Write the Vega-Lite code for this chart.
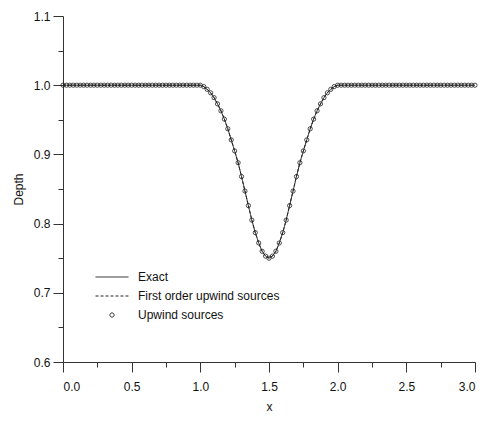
{
  "$schema": "https://vega.github.io/schema/vega-lite/v6.json",
  "width": 412,
  "height": 346,
  "autosize": {"type": "none"},
  "padding": {"left": 63, "top": 16, "right": 15, "bottom": 61},
  "background": "white",
  "config": {
    "view": {"stroke": null},
    "font": "Liberation Sans",
    "axis": {
      "grid": false,
      "domainColor": "#333333",
      "tickColor": "#333333",
      "domainWidth": 1,
      "tickWidth": 1,
      "tickSize": 10,
      "labelColor": "#111111",
      "titleColor": "#111111",
      "labelFont": "Liberation Sans",
      "titleFont": "Liberation Sans",
      "labelFontSize": 12,
      "titleFontSize": 12,
      "titleFontWeight": "normal"
    },
    "legend": {
      "labelFont": "Liberation Sans",
      "labelFontSize": 12,
      "labelColor": "#111111"
    }
  },
  "data": {
    "values": [
      {"x": 0, "depth": 1}, {"x": 0.025, "depth": 1}, {"x": 0.05, "depth": 1}, {"x": 0.075, "depth": 1},
      {"x": 0.1, "depth": 1}, {"x": 0.125, "depth": 1}, {"x": 0.15, "depth": 1}, {"x": 0.175, "depth": 1},
      {"x": 0.2, "depth": 1}, {"x": 0.225, "depth": 1}, {"x": 0.25, "depth": 1}, {"x": 0.275, "depth": 1},
      {"x": 0.3, "depth": 1}, {"x": 0.325, "depth": 1}, {"x": 0.35, "depth": 1}, {"x": 0.375, "depth": 1},
      {"x": 0.4, "depth": 1}, {"x": 0.425, "depth": 1}, {"x": 0.45, "depth": 1}, {"x": 0.475, "depth": 1},
      {"x": 0.5, "depth": 1}, {"x": 0.525, "depth": 1}, {"x": 0.55, "depth": 1}, {"x": 0.575, "depth": 1},
      {"x": 0.6, "depth": 1}, {"x": 0.625, "depth": 1}, {"x": 0.65, "depth": 1}, {"x": 0.675, "depth": 1},
      {"x": 0.7, "depth": 1}, {"x": 0.725, "depth": 1}, {"x": 0.75, "depth": 1}, {"x": 0.775, "depth": 1},
      {"x": 0.8, "depth": 1}, {"x": 0.825, "depth": 1}, {"x": 0.85, "depth": 1}, {"x": 0.875, "depth": 1},
      {"x": 0.9, "depth": 1}, {"x": 0.925, "depth": 1}, {"x": 0.95, "depth": 1}, {"x": 0.975, "depth": 1},
      {"x": 1.0, "depth": 1.0}, {"x": 1.025, "depth": 0.998}, {"x": 1.05, "depth": 0.994}, {"x": 1.075, "depth": 0.989},
      {"x": 1.1, "depth": 0.982}, {"x": 1.125, "depth": 0.973}, {"x": 1.15, "depth": 0.963}, {"x": 1.175, "depth": 0.951},
      {"x": 1.2, "depth": 0.937}, {"x": 1.225, "depth": 0.921}, {"x": 1.25, "depth": 0.905}, {"x": 1.275, "depth": 0.888},
      {"x": 1.3, "depth": 0.868}, {"x": 1.325, "depth": 0.847}, {"x": 1.35, "depth": 0.826}, {"x": 1.375, "depth": 0.805},
      {"x": 1.4, "depth": 0.787}, {"x": 1.425, "depth": 0.772}, {"x": 1.45, "depth": 0.76}, {"x": 1.475, "depth": 0.753},
      {"x": 1.5, "depth": 0.75},
      {"x": 1.525, "depth": 0.753}, {"x": 1.55, "depth": 0.76}, {"x": 1.575, "depth": 0.772}, {"x": 1.6, "depth": 0.787},
      {"x": 1.625, "depth": 0.805}, {"x": 1.65, "depth": 0.826}, {"x": 1.675, "depth": 0.847}, {"x": 1.7, "depth": 0.868},
      {"x": 1.725, "depth": 0.888}, {"x": 1.75, "depth": 0.905}, {"x": 1.775, "depth": 0.921}, {"x": 1.8, "depth": 0.937},
      {"x": 1.825, "depth": 0.951}, {"x": 1.85, "depth": 0.963}, {"x": 1.875, "depth": 0.973}, {"x": 1.9, "depth": 0.982},
      {"x": 1.925, "depth": 0.989}, {"x": 1.95, "depth": 0.994}, {"x": 1.975, "depth": 0.998}, {"x": 2.0, "depth": 1.0},
      {"x": 2.025, "depth": 1}, {"x": 2.05, "depth": 1}, {"x": 2.075, "depth": 1}, {"x": 2.1, "depth": 1},
      {"x": 2.125, "depth": 1}, {"x": 2.15, "depth": 1}, {"x": 2.175, "depth": 1}, {"x": 2.2, "depth": 1},
      {"x": 2.225, "depth": 1}, {"x": 2.25, "depth": 1}, {"x": 2.275, "depth": 1}, {"x": 2.3, "depth": 1},
      {"x": 2.325, "depth": 1}, {"x": 2.35, "depth": 1}, {"x": 2.375, "depth": 1}, {"x": 2.4, "depth": 1},
      {"x": 2.425, "depth": 1}, {"x": 2.45, "depth": 1}, {"x": 2.475, "depth": 1}, {"x": 2.5, "depth": 1},
      {"x": 2.525, "depth": 1}, {"x": 2.55, "depth": 1}, {"x": 2.575, "depth": 1}, {"x": 2.6, "depth": 1},
      {"x": 2.625, "depth": 1}, {"x": 2.65, "depth": 1}, {"x": 2.675, "depth": 1}, {"x": 2.7, "depth": 1},
      {"x": 2.725, "depth": 1}, {"x": 2.75, "depth": 1}, {"x": 2.775, "depth": 1}, {"x": 2.8, "depth": 1},
      {"x": 2.825, "depth": 1}, {"x": 2.85, "depth": 1}, {"x": 2.875, "depth": 1}, {"x": 2.9, "depth": 1},
      {"x": 2.925, "depth": 1}, {"x": 2.95, "depth": 1}, {"x": 2.975, "depth": 1}, {"x": 3.0, "depth": 1}
    ]
  },
  "layer": [
    {
      "mark": {"type": "line", "color": "#222222", "strokeWidth": 1},
      "encoding": {
        "x": {
          "field": "x", "type": "quantitative",
          "scale": {"domain": [0, 3], "nice": false, "zero": false},
          "axis": {"values": [0, 0.5, 1, 1.5, 2, 2.5, 3], "format": ".1f", "title": "x", "labelPadding": 9, "titlePadding": 9}
        },
        "y": {
          "field": "depth", "type": "quantitative",
          "scale": {"domain": [0.6, 1.1], "nice": false, "zero": false},
          "axis": {"values": [0.6, 0.7, 0.8, 0.9, 1.0, 1.1], "format": ".1f", "title": "Depth", "labelPadding": 3, "titlePadding": 8}
        },
        "strokeDash": {
          "datum": "Exact", "type": "nominal",
          "scale": {
            "domain": ["Exact", "First order upwind sources", "Upwind sources"],
            "range": [[1, 0], [3, 2], [1, 0]]
          },
          "legend": {
            "title": null,
            "orient": "none",
            "legendX": 32,
            "legendY": 254,
            "symbolType": "stroke",
            "symbolSize": 1089,
            "symbolStrokeWidth": 1,
            "symbolStrokeColor": "#333333",
            "labelOffset": 9,
            "rowPadding": 6,
            "encode": {
              "symbols": {
                "update": {
                  "shape": {"signal": "datum.label === 'Upwind sources' ? 'circle' : 'stroke'"},
                  "size": {"signal": "datum.label === 'Upwind sources' ? 18 : 1089"},
                  "y": {"value": 7},
                  "fill": {"value": "transparent"},
                  "stroke": {"value": "#222222"},
                  "strokeWidth": {"value": 1}
                }
              },
              "labels": {
                "update": {
                  "y": {"value": 7}
                }
              }
            }
          }
        }
      }
    },
    {
      "mark": {"type": "line", "color": "#222222", "strokeWidth": 1},
      "encoding": {
        "x": {"field": "x", "type": "quantitative", "axis": null},
        "y": {"field": "depth", "type": "quantitative", "axis": null},
        "strokeDash": {"datum": "First order upwind sources", "type": "nominal"}
      }
    },
    {
      "mark": {"type": "point", "shape": "circle", "filled": false, "size": 18, "stroke": "#222222", "strokeWidth": 0.8, "opacity": 1},
      "encoding": {
        "x": {
          "field": "x", "type": "quantitative",
          "axis": {"orient": "bottom", "values": [0.25, 0.75, 1.25, 1.75, 2.25, 2.75], "labels": false, "domain": false, "tickSize": 5, "title": null}
        },
        "y": {
          "field": "depth", "type": "quantitative",
          "axis": {"orient": "left", "values": [0.65, 0.75, 0.85, 0.95, 1.05], "labels": false, "domain": false, "tickSize": 5, "title": null}
        }
      }
    }
  ],
  "resolve": {"axis": {"x": "independent", "y": "independent"}}
}
